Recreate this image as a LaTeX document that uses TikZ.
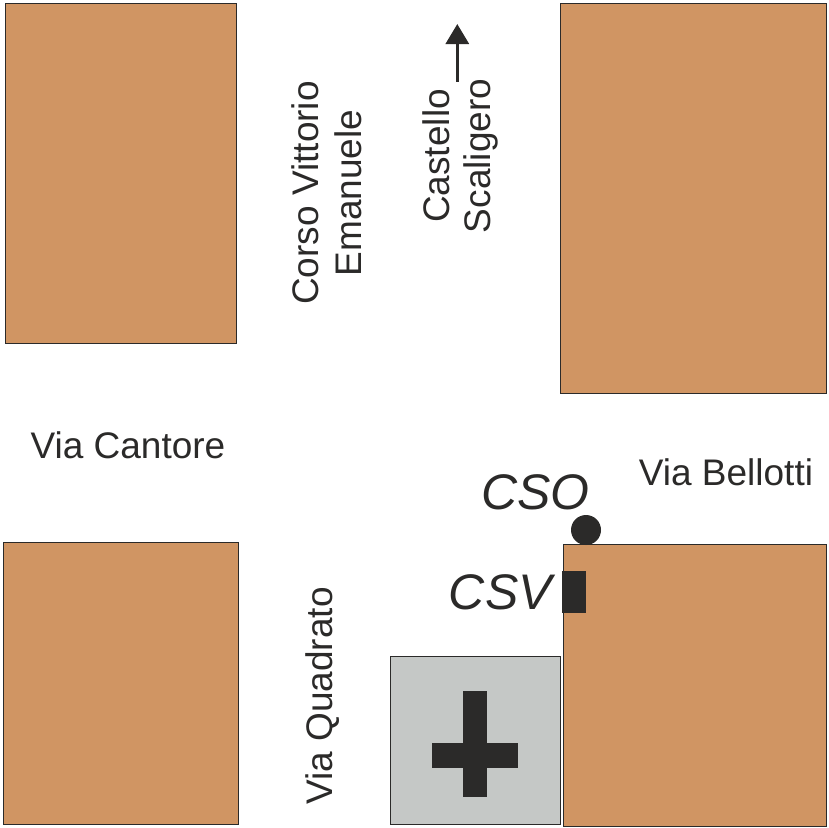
\documentclass[tikz,border=0pt]{standalone}
\usepackage{fontspec}
\setmainfont{Liberation Sans}
\usetikzlibrary{arrows.meta}
\definecolor{blockc}{RGB}{208,149,99}
\definecolor{churchc}{RGB}{197,200,198}
\definecolor{darkc}{RGB}{43,42,41}
\newcommand\fullblock[5]{%
    % x0, y0, x1, y1 in image pixels, node name
    \node[block,minimum width=#3pt-#1pt,minimum height=#4pt-#2pt,anchor=north west] (#5) at (#1pt,-#2pt) {};
    }
\tikzset{
    block/.style={draw=darkc,line width=0.7pt,fill=blockc,inner sep=0pt,outer sep=0pt},
    street/.style={text=darkc,font=\fontsize{37}{43}\selectfont,inner sep=0pt,align=center},
    station/.style={text=darkc,font=\fontsize{50}{52}\selectfont\itshape,inner sep=0pt},
}
\begin{document}
\begin{tikzpicture}[x=1pt,y=1pt]
    \useasboundingbox (0,0) rectangle (828,-828);
    \fullblock{5}{3}{236}{343}{blockNW}
    \fullblock{560}{3}{826}{393}{blockNE}
    \fullblock{3}{542}{238}{824}{blockSW}
    \fullblock{563}{544}{826}{826}{blockSE}
    \node[block,fill=churchc,minimum width=170pt,minimum height=168pt,anchor=north west] (church) at (390,-656) {};
    % the cross
    \fill[darkc] (463,-691) rectangle (487,-797);
    \fill[darkc] (432,-743) rectangle (518,-768);
    % the two stations
    \node[fill=darkc,circle,minimum size=30pt,inner sep=0pt] (cso) at (586,-530) {};
    \node[fill=darkc,minimum width=24pt,minimum height=42pt,inner sep=0pt,anchor=north west] (csv) at (562,-571) {};
    \node[station,anchor=east] (csolabel) at (590,-492) {CSO};
    \node[station,anchor=east] (csvlabel) at (552,-592) {CSV};
    % street names
    \node[street] (cantore) at (128,-445) {Via Cantore};
    \node[street] (bellotti) at (726,-472) {Via Bellotti};
    \node[street,rotate=90] (corso) at (327,-193) {Corso Vittorio\\Emanuele};
    \node[street,rotate=90,font=\fontsize{37}{41}\selectfont] (castello) at (460.5,-156) {Castello\\Scaligero};
    \node[street,rotate=90] (quadrato) at (323,-696) {Via Quadrato};
    % arrow to the castle
    \coordinate (arrowstart) at (457.3,-81.5);
    \coordinate (arrowend) at (457.3,-24);
    \draw[darkc,line width=3pt,-{Triangle[length=20pt,width=23pt]}] (arrowstart) -- (arrowend);
\end{tikzpicture}
\end{document}
